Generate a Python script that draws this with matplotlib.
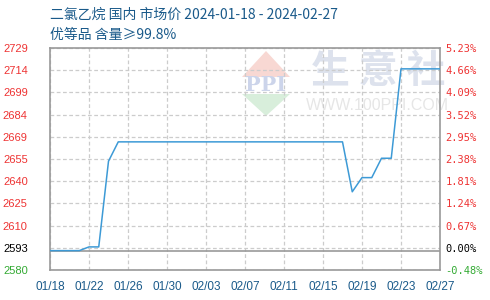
import numpy as np
import pandas as pd
import matplotlib
matplotlib.use("Agg")
import matplotlib.pyplot as plt
import matplotlib.dates as mdates
from matplotlib.patches import Polygon

plt.rcParams['font.family'] = ['Noto Sans CJK SC', 'DejaVu Sans']

# price data (change points, line drawn between them)
dates = ['2024-01-18', '2024-01-21', '2024-01-22', '2024-01-23', '2024-01-24',
         '2024-01-25', '2024-02-17', '2024-02-18', '2024-02-19', '2024-02-20',
         '2024-02-21', '2024-02-22', '2024-02-23', '2024-02-27']
prices = [2593, 2593, 2595.5, 2595.5, 2653, 2666, 2666, 2632.5, 2642, 2642,
          2655, 2655, 2715, 2715]

left_labels = ['2580', '2593', '2610', '2625', '2640', '2655', '2669', '2684',
               '2699', '2714', '2729']
right_labels = ['-0.48%', '0.00%', '0.67%', '1.24%', '1.81%', '2.38%', '2.95%',
                '3.52%', '4.09%', '4.66%', '5.23%']
base_price = 2593
y_min, y_max = 2580, 2729

title1 = '二氯乙烷 国内 市场价 2024-01-18 - 2024-02-27'
title2 = '优等品 含量≥99.8%'

W, H = 490, 300
fig = plt.figure(figsize=(W / 100, H / 100), dpi=100)
ax = fig.add_axes([50 / W, 30 / H, 390 / W, 222 / H])

x = pd.to_datetime(dates)
ax.plot(x, prices, color='#3d9ad6', lw=1.1, zorder=3)
ax.axhline(base_price, color='#999999', lw=1.2, zorder=2)

ax.set_xlim(pd.Timestamp('2024-01-18'), pd.Timestamp('2024-02-27'))
ax.set_ylim(y_min, y_max)
xt = pd.date_range('2024-01-18', '2024-02-27', freq='4D')
ax.set_xticks(xt)
ax.xaxis.set_major_formatter(mdates.DateFormatter('%m/%d'))
yt = np.linspace(y_min, y_max, 11)
ax.set_yticks(yt)
ax.set_yticklabels(left_labels)

ax.set_axisbelow(True)
ax.grid(True, ls=(0, (3, 2)), color='#cccccc', lw=0.9)
for s in ax.spines.values():
    s.set_color('#999999')
    s.set_linewidth(1.2)

ax.tick_params(axis='x', length=0, pad=8, labelsize=8.5, labelcolor='#1a5a8a')
ax.tick_params(axis='y', length=0, pad=16, labelsize=8)
for lab in ax.get_xticklabels():
    lab.set_family('Liberation Sans')
ylab = ax.get_yticklabels()
for i, lab in enumerate(ylab):
    lab.set_family('Liberation Sans')
    lab.set_color('#33aa33' if i == 0 else ('#000000' if i == 1 else '#ee3333'))

ax2 = ax.twinx()
ax2.set_ylim(y_min, y_max)
ax2.set_yticks(yt)
ax2.set_yticklabels(right_labels)
ax2.tick_params(axis='y', length=0, pad=4, labelsize=7.5)
for s in ax2.spines.values():
    s.set_visible(False)
for i, lab in enumerate(ax2.get_yticklabels()):
    lab.set_family('DejaVu Sans Mono')
    lab.set_color('#33aa33' if i == 0 else ('#000000' if i == 1 else '#ee3333'))


# watermark, given in pixel positions
def fp(px, py):
    return (px / W, 1 - py / H)


ax.add_patch(Polygon([fp(242, 77), fp(266, 51), fp(290, 77)], closed=True,
                     transform=fig.transFigure, color='#f8d8d3', lw=0, zorder=0.1))
ax.add_patch(Polygon([fp(242, 94), fp(266, 116), fp(290, 94)], closed=True,
                     transform=fig.transFigure, color='#d8eedb', lw=0, zorder=0.1))
ax.text(*fp(266, 85), 'PPI', transform=fig.transFigure, ha='center', va='center',
        fontsize=15, fontweight='bold', family='DejaVu Serif', color='#ccd4ea', zorder=0.2)
ax.text(*fp(378, 72), '生 意 社', transform=fig.transFigure, ha='center', va='center',
        fontsize=28, fontweight='bold', color='#dde2ed', zorder=0.2)
ax.text(*fp(377, 105), 'WWW.100PPI.COM', transform=fig.transFigure, ha='center',
        va='center', fontsize=11.5, family='Liberation Sans', color='#e6e6e6', zorder=0.2)

fig.text(50 / W, 1 - 15 / H, title1, ha='left', va='center', fontsize=10, color='#1a5a8a')
fig.text(50 / W, 1 - 35 / H, title2, ha='left', va='center', fontsize=10, color='#1a5a8a')

fig.savefig('out.png', dpi=100)
